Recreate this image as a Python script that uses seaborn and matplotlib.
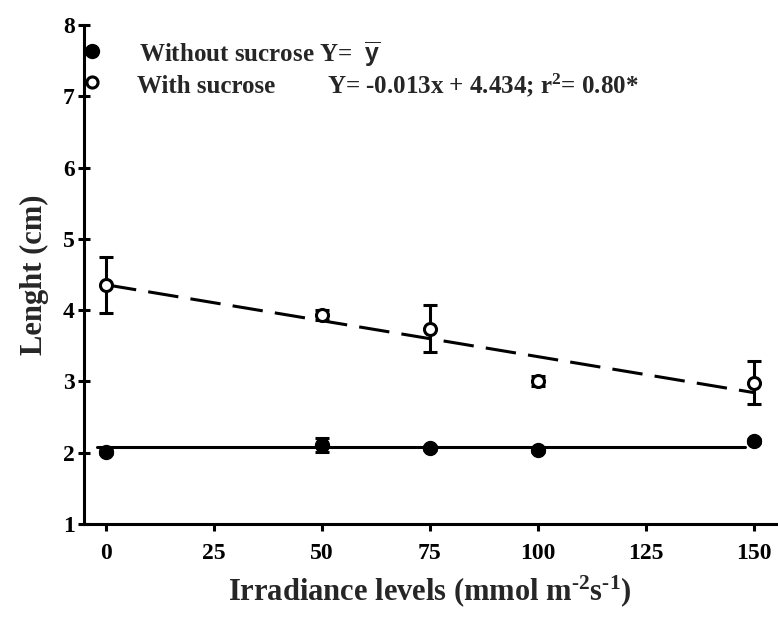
import numpy as np
import pandas as pd
import matplotlib
matplotlib.use("Agg")
import matplotlib.pyplot as plt
import seaborn as sns

# ---- data ----
irradiance = [0, 50, 75, 100, 150]
without_sucrose = [2.01, 2.11, 2.07, 2.04, 2.16]
without_err = [0.03, 0.10, 0.03, 0.03, 0.03]
with_sucrose = [4.35, 3.93, 3.74, 3.00, 2.98]
with_err = [0.39, 0.07, 0.33, 0.07, 0.30]
x_ticks = [0, 25, 50, 75, 100, 125, 150]
y_ticks = [1, 2, 3, 4, 5, 6, 7, 8]
mean_line_x = [-2, 148]

sns.set_theme(style="ticks")
plt.rcParams["font.family"] = ["Liberation Serif", "DejaVu Serif"]
plt.rcParams["font.weight"] = "bold"
plt.rcParams["mathtext.fontset"] = "custom"
plt.rcParams["mathtext.rm"] = "Liberation Serif:bold"
plt.rcParams["mathtext.bf"] = "Liberation Serif:bold"
plt.rcParams["mathtext.it"] = "Liberation Serif:bold"
plt.rcParams["mathtext.sf"] = "Liberation Sans:bold"

df = pd.DataFrame({"x": irradiance, "without": without_sucrose, "with": with_sucrose})

fig = plt.figure(figsize=(7.78, 6.23), dpi=100)
ax = fig.add_axes([84 / 778, 1 - 524 / 623, (776 - 84) / 778, (524 - 25) / 623])

# regression / mean lines
sns.regplot(data=df, x="x", y="with", ax=ax, scatter=False, ci=None, truncate=True,
            line_kws=dict(color="black", lw=2.2, dashes=(10, 4)))
mean_val = float(np.mean(without_sucrose))
sns.lineplot(x=mean_line_x, y=[mean_val, mean_val], ax=ax, color="black", lw=2.2)

# error bars
ax.errorbar(irradiance, with_sucrose, yerr=with_err, fmt="none", ecolor="black",
            elinewidth=2.2, capsize=4.8, capthick=2.2, zorder=3)
ax.errorbar(irradiance, without_sucrose, yerr=without_err, fmt="none", ecolor="black",
            elinewidth=2.2, capsize=4.8, capthick=2.2, zorder=3)

# points
sns.scatterplot(data=df, x="x", y="with", ax=ax, marker="o", s=75, color="white",
                edgecolor="black", linewidth=2.2, zorder=5)
sns.scatterplot(data=df, x="x", y="without", ax=ax, marker="o", s=100, color="black",
                edgecolor="black", linewidth=1, zorder=5)

ax.set_xlim(-5.1, 155.2)
ax.set_ylim(1, 8)
ax.set_xticks(x_ticks)
ax.set_yticks(y_ticks)
ax.set_xticklabels([str(v) for v in x_ticks], fontsize=17, fontweight="bold")
ax.set_yticklabels([str(v) for v in y_ticks], fontsize=17, fontweight="bold")
ax.tick_params(axis="y", direction="inout", length=9, width=2.2, pad=2, colors="black")
ax.tick_params(axis="x", direction="out", length=5, width=2.2, pad=9, colors="black")

for side in ["top", "right"]:
    ax.spines[side].set_visible(False)
for side in ["left", "bottom"]:
    ax.spines[side].set_linewidth(2.2)
    ax.spines[side].set_color("black")

ax.set_xlabel(r"Irradiance levels (mmol m$^{\text{-2}}$s$^{\text{-1}}$)", fontsize=22,
              fontweight="bold", labelpad=6)
ax.set_ylabel("Lenght (cm)", fontsize=22, fontweight="bold", labelpad=10)

# legend (manual)
ax.plot([0.0116], [0.948], transform=ax.transAxes, marker="o", ms=10, color="black",
        ls="none", clip_on=False)
ax.plot([0.0116], [0.886], transform=ax.transAxes, marker="o", ms=8, mfc="white",
        mec="black", mew=2.2, ls="none", clip_on=False)
ax.text(0.0795, 0.926, r"Without sucrose Y=  $\overline{\mathsf{y}}$", transform=ax.transAxes,
        fontsize=18, fontweight="bold", va="baseline", ha="left")
ax.text(0.0765, 0.864, "With sucrose", transform=ax.transAxes,
        fontsize=18, fontweight="bold", va="baseline", ha="left")
ax.text(0.351, 0.864, r"Y= -0.013x + 4.434; r$^{2}$= 0.80*", transform=ax.transAxes,
        fontsize=18, fontweight="bold", va="baseline", ha="left")

fig.savefig("out.png", dpi=100)
